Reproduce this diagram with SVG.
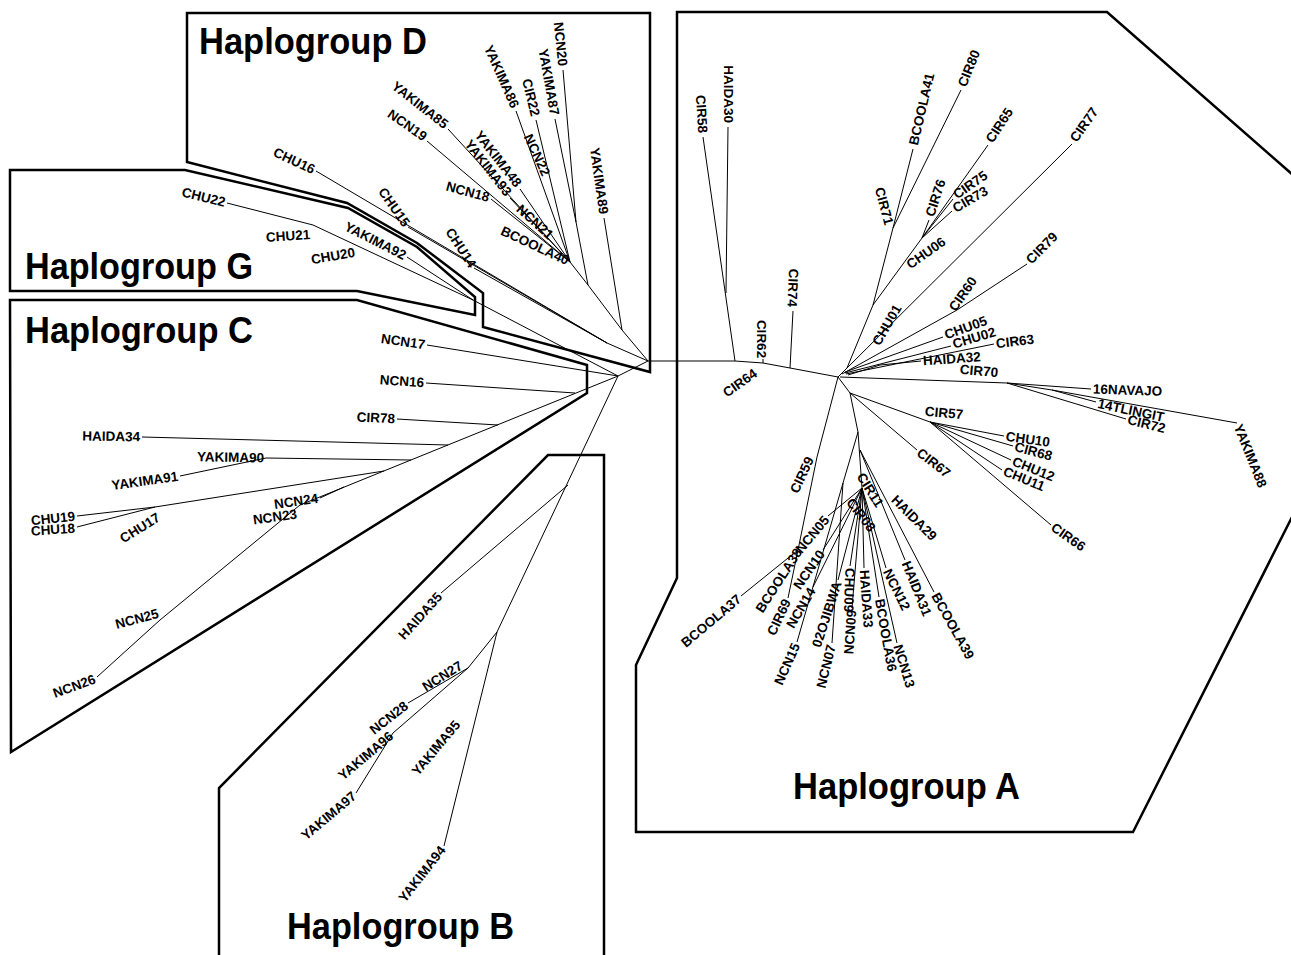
<svg xmlns="http://www.w3.org/2000/svg" width="1291" height="955" viewBox="0 0 1291 955">
<style>
.t{font-family:"Liberation Sans",Arial,Helvetica,sans-serif;font-weight:bold;font-size:13.5px;dominant-baseline:central;fill:#000}
.e{text-anchor:end}.s{text-anchor:start}.m{text-anchor:middle}
.h{font-family:"Liberation Sans",Arial,Helvetica,sans-serif;font-weight:bold;font-size:36px;fill:#000}
.box{fill:none;stroke:#000;stroke-width:2.5;stroke-linejoin:miter}
.br{fill:none;stroke:#000;stroke-width:1}
</style>
<rect width="1291" height="955" fill="#fff"/>
<g id="boxes">
<path class="box" d="M187,13 L650,13 L650,372 L483,327 L483,293 L417,243 L347,203 L187,162 Z"/>
<path class="box" d="M10,170 L185,170 L348,208 L417,247 L475,297 L475,315 L357,291 L10,291 Z"/>
<path class="box" d="M10,300 L357,300 L587,365 L587,393 L11,752 Z"/>
<path class="box" d="M219,960 L219,788 L548,455 L604,455 L604,960"/>
<path class="box" d="M1293,175 L1107,12 L677,12 L677,578 L636,665 L636,832 L1133,832 L1293,515"/>
</g>
<g id="titles">
<text class="h" x="199" y="54" textLength="228" lengthAdjust="spacingAndGlyphs">Haplogroup D</text>
<text class="h" x="25" y="279" textLength="228" lengthAdjust="spacingAndGlyphs">Haplogroup G</text>
<text class="h" x="25" y="343" textLength="228" lengthAdjust="spacingAndGlyphs">Haplogroup C</text>
<text class="h" x="287" y="939" textLength="227" lengthAdjust="spacingAndGlyphs">Haplogroup B</text>
<text class="h" x="793" y="799" textLength="227" lengthAdjust="spacingAndGlyphs">Haplogroup A</text>
</g>
<g id="connectors">
<path class="br" d="M648,361 L735,361 L763,363 L790,368 L838,377"/>
<path class="br" d="M703,137 L735,361 M728,127 L726,293 M793,311 L790,368 M763,359 L763,363"/>
<path class="br" d="M838,377 L847,368 L873,305 L893,228 L913,149 M893,228 L961,90 M873,305 L922,238 L929,220 M922,238 L953,199 M922,238 L952,211 M922,238 L988,145"/>
<path class="br" d="M840,375 L1072,144 M842,374 L957,310 L1027,264 M845,372 L943,337 M845,373 L951,346 M846,374 L994,344 M848,375 L880,365 L921,361"/>
<path class="br" d="M840,377 L1007,383 L1091,389 M1007,383 L1052,390 L1096,402 M1007,383 L1126,419 M1052,390 L1237,423"/>
<path class="br" d="M838,377 L850,393 L930,422 L1004,436 M930,422 L1013,446 M930,422 L1011,460 M930,422 L1002,470 M930,422 L1051,525 M850,393 L917,450"/>
<path class="br" d="M850,393 L858,432 L862,488 M860,450 L905,560 M860,450 L934,592"/>
<path class="br" d="M862,488 L828,516 M862,488 L823,550 M862,488 L813,587 M862,488 L838,580 M862,488 L852,608 M862,488 L850,566 M862,488 L864,568 M862,488 L879,597 M862,488 L886,568 M862,488 L897,643 M858,432 L843,483 L797,642 M843,483 L832,643"/>
<path class="br" d="M838,377 L817,457 L798,550 L741,596 M798,550 L788,598"/>
<path class="br" d="M648,361 L622,330 L604,218 M622,330 L588,285 L570,262 M588,285 L576,222 L563,70 M576,222 L555,119"/>
<path class="br" d="M570,262 L516,111 M570,262 L536,120 M570,262 L520,189 M570,262 L510,198 M570,262 L491,199 M570,262 L448,129 M570,262 L427,141"/>
<path class="br" d="M648,361 L607,343 L316,171 M607,343 L408,227 M607,343 L474,268"/>
<path class="br" d="M648,361 L618,376 L473,300 L313,225 L227,203 M473,300 L407,257"/>
<path class="br" d="M618,376 L427,345 M618,376 L300,505 L160,620 L97,677 M575,393 L426,383 M498,425 L397,419 M448,445 L142,437 M411,460 L266,458 L180,476 M384,471 L155,507 L77,516 M155,507 L77,527 M344,487 L320,498"/>
<path class="br" d="M618,376 L497,632 L444,846 M568,485 L441,593 M497,632 L468,668 L408,703 M468,668 L393,733 L356,793"/>
</g>
<g id="haplogroup-d">
<g id="YAKIMA86"><text class="t e" transform="translate(516,109) rotate(66)" x="-2">YAKIMA86</text></g>
<g id="YAKIMA87"><text class="t e" transform="translate(555,117) rotate(80)" x="-2">YAKIMA87</text></g>
<g id="CIR22"><text class="t e" transform="translate(536,118) rotate(76)" x="-2">CIR22</text></g>
<g id="NCN20"><text class="t e" transform="translate(563,68) rotate(84)" x="-2">NCN20</text></g>
<g id="NCN22"><text class="t m" transform="translate(537,155) rotate(65)">NCN22</text></g>
<g id="YAKIMA89"><text class="t e" transform="translate(604,216) rotate(82)" x="-2">YAKIMA89</text></g>
<g id="YAKIMA48"><text class="t e" transform="translate(520,187) rotate(52)" x="-2">YAKIMA48</text></g>
<g id="YAKIMA93"><text class="t e" transform="translate(510,196) rotate(52)" x="-2">YAKIMA93</text></g>
<g id="NCN18"><text class="t e" transform="translate(491,198) rotate(15)" x="-2">NCN18</text></g>
<g id="NCN21"><text class="t m" transform="translate(535,222) rotate(42)">NCN21</text></g>
<g id="BCOOLA40"><text class="t e" transform="translate(570,262) rotate(25)" x="-2">BCOOLA40</text></g>
<g id="YAKIMA85"><text class="t e" transform="translate(448,127) rotate(38)" x="-2">YAKIMA85</text></g>
<g id="NCN19"><text class="t e" transform="translate(427,139) rotate(35)" x="-2">NCN19</text></g>
<g id="CHU16"><text class="t e" transform="translate(316,171) rotate(25)" x="-2">CHU16</text></g>
<g id="CHU15"><text class="t e" transform="translate(408,227) rotate(55)" x="-2">CHU15</text></g>
<g id="CHU14"><text class="t e" transform="translate(474,268) rotate(57)" x="-2">CHU14</text></g>
</g>
<g id="haplogroup-g">
<g id="CHU22"><text class="t e" transform="translate(227,203) rotate(14)" x="-2">CHU22</text></g>
<g id="CHU21"><text class="t m" transform="translate(288,236) rotate(-4)">CHU21</text></g>
<g id="CHU20"><text class="t m" transform="translate(333,256) rotate(-10)">CHU20</text></g>
<g id="YAKIMA92"><text class="t e" transform="translate(407,257) rotate(27)" x="-2">YAKIMA92</text></g>
</g>
<g id="haplogroup-c">
<g id="NCN17"><text class="t e" transform="translate(427,345) rotate(8)" x="-2">NCN17</text></g>
<g id="NCN16"><text class="t e" transform="translate(426,383) rotate(4)" x="-2">NCN16</text></g>
<g id="CIR78"><text class="t e" transform="translate(397,419) rotate(3)" x="-2">CIR78</text></g>
<g id="HAIDA34"><text class="t e" transform="translate(142,437) rotate(1)" x="-2">HAIDA34</text></g>
<g id="YAKIMA90"><text class="t e" transform="translate(266,458) rotate(1)" x="-2">YAKIMA90</text></g>
<g id="YAKIMA91"><text class="t e" transform="translate(180,476) rotate(-8)" x="-2">YAKIMA91</text></g>
<g id="CHU19"><text class="t e" transform="translate(77,516) rotate(-6)" x="-2">CHU19</text></g>
<g id="CHU18"><text class="t e" transform="translate(77,528) rotate(-4)" x="-2">CHU18</text></g>
<g id="CHU17"><text class="t m" transform="translate(140,528) rotate(-32)">CHU17</text></g>
<g id="NCN24"><text class="t e" transform="translate(320,498) rotate(-8)" x="-2">NCN24</text></g>
<g id="NCN23"><text class="t m" transform="translate(275,517) rotate(-8)">NCN23</text></g>
<g id="NCN25"><text class="t m" transform="translate(137,619) rotate(-15)">NCN25</text></g>
<g id="NCN26"><text class="t e" transform="translate(97,678) rotate(-20)" x="-2">NCN26</text></g>
</g>
<g id="haplogroup-b">
<g id="HAIDA35"><text class="t e" transform="translate(441,593) rotate(-48)" x="-2">HAIDA35</text></g>
<g id="NCN27"><text class="t e" transform="translate(462,664) rotate(-32)" x="-1">NCN27</text></g>
<g id="NCN28"><text class="t e" transform="translate(408,703) rotate(-38)" x="-2">NCN28</text></g>
<g id="YAKIMA96"><text class="t e" transform="translate(393,733) rotate(-40)" x="-2">YAKIMA96</text></g>
<g id="YAKIMA97"><text class="t e" transform="translate(356,793) rotate(-40)" x="-2">YAKIMA97</text></g>
<g id="YAKIMA95"><text class="t m" transform="translate(436,748) rotate(-50)">YAKIMA95</text></g>
<g id="YAKIMA94"><text class="t e" transform="translate(444,846) rotate(-52)" x="-2">YAKIMA94</text></g>
</g>
<g id="haplogroup-a">
<g id="CIR58"><text class="t e" transform="translate(703,135) rotate(86)" x="-2">CIR58</text></g>
<g id="HAIDA30"><text class="t e" transform="translate(728,125) rotate(90)" x="-2">HAIDA30</text></g>
<g id="CIR64"><text class="t m" transform="translate(740,383) rotate(-35)">CIR64</text></g>
<g id="CIR62"><text class="t m" transform="translate(761,339) rotate(90)">CIR62</text></g>
<g id="CIR74"><text class="t e" transform="translate(792,309) rotate(92)" x="-2">CIR74</text></g>
<g id="BCOOLA41"><text class="t s" transform="translate(913,147) rotate(-77)" x="2">BCOOLA41</text></g>
<g id="CIR80"><text class="t s" transform="translate(961,88) rotate(-68)" x="2">CIR80</text></g>
<g id="CIR71"><text class="t m" transform="translate(884,206) rotate(75)">CIR71</text></g>
<g id="CIR76"><text class="t s" transform="translate(929,218) rotate(-72)" x="2">CIR76</text></g>
<g id="CIR75"><text class="t s" transform="translate(953,197) rotate(-35)" x="2">CIR75</text></g>
<g id="CIR73"><text class="t s" transform="translate(952,210) rotate(-30)" x="2">CIR73</text></g>
<g id="CIR65"><text class="t s" transform="translate(988,143) rotate(-57)" x="2">CIR65</text></g>
<g id="CHU06"><text class="t m" transform="translate(926,253) rotate(-35)">CHU06</text></g>
<g id="CHU01"><text class="t m" transform="translate(887,325) rotate(-60)">CHU01</text></g>
<g id="CIR77"><text class="t s" transform="translate(1072,142) rotate(-55)" x="2">CIR77</text></g>
<g id="CIR79"><text class="t s" transform="translate(1027,263) rotate(-45)" x="2">CIR79</text></g>
<g id="CIR60"><text class="t m" transform="translate(963,294) rotate(-55)">CIR60</text></g>
<g id="CHU05"><text class="t s" transform="translate(943,336) rotate(-20)" x="2">CHU05</text></g>
<g id="CHU02"><text class="t s" transform="translate(951,345) rotate(-17)" x="2">CHU02</text></g>
<g id="CIR63"><text class="t s" transform="translate(994,344) rotate(-7)" x="2">CIR63</text></g>
<g id="HAIDA32"><text class="t s" transform="translate(921,361) rotate(-4)" x="2">HAIDA32</text></g>
<g id="CIR70"><text class="t m" transform="translate(979,371) rotate(5)">CIR70</text></g>
<g id="16NAVAJO"><text class="t s" transform="translate(1091,389) rotate(2)" x="2">16NAVAJO</text></g>
<g id="14TLINGIT"><text class="t s" transform="translate(1096,403) rotate(12)" x="2">14TLINGIT</text></g>
<g id="CIR72"><text class="t s" transform="translate(1126,419) rotate(14)" x="2">CIR72</text></g>
<g id="YAKIMA88"><text class="t s" transform="translate(1237,423) rotate(68)" x="2">YAKIMA88</text></g>
<g id="CIR57"><text class="t m" transform="translate(944,413) rotate(5)">CIR57</text></g>
<g id="CHU10"><text class="t s" transform="translate(1004,436) rotate(8)" x="2">CHU10</text></g>
<g id="CIR68"><text class="t s" transform="translate(1013,446) rotate(15)" x="2">CIR68</text></g>
<g id="CHU12"><text class="t s" transform="translate(1011,460) rotate(22)" x="2">CHU12</text></g>
<g id="CHU11"><text class="t s" transform="translate(1002,470) rotate(22)" x="2">CHU11</text></g>
<g id="CIR66"><text class="t s" transform="translate(1051,525) rotate(35)" x="2">CIR66</text></g>
<g id="CIR67"><text class="t s" transform="translate(917,450) rotate(38)" x="2">CIR67</text></g>
<g id="CIR59"><text class="t m" transform="translate(802,475) rotate(-65)">CIR59</text></g>
<g id="HAIDA29"><text class="t m" transform="translate(914,518) rotate(45)">HAIDA29</text></g>
<g id="CIR11"><text class="t m" transform="translate(870,490) rotate(58)">CIR11</text></g>
<g id="CIR08"><text class="t m" transform="translate(861,515) rotate(52)">CIR08</text></g>
<g id="NCN05"><text class="t e" transform="translate(828,516) rotate(-50)" x="-2">NCN05</text></g>
<g id="NCN10"><text class="t e" transform="translate(823,550) rotate(-55)" x="-2">NCN10</text></g>
<g id="NCN14"><text class="t e" transform="translate(813,587) rotate(-60)" x="-2">NCN14</text></g>
<g id="NCN15"><text class="t e" transform="translate(797,642) rotate(-66)" x="-2">NCN15</text></g>
<g id="BCOOLA38"><text class="t e" transform="translate(800,548) rotate(-57)" x="-2">BCOOLA38</text></g>
<g id="CIR69"><text class="t e" transform="translate(788,598) rotate(-65)" x="-2">CIR69</text></g>
<g id="BCOOLA37"><text class="t e" transform="translate(741,596) rotate(-40)" x="-2">BCOOLA37</text></g>
<g id="02OJIBWA"><text class="t e" transform="translate(838,580) rotate(-72)" x="-2">02OJIBWA</text></g>
<g id="NCN07"><text class="t e" transform="translate(832,643) rotate(-76)" x="-2">NCN07</text></g>
<g id="NCN09"><text class="t e" transform="translate(852,608) rotate(-86)" x="-2">NCN09</text></g>
<g id="CHU09"><text class="t s" transform="translate(850,566) rotate(92)" x="2">CHU09</text></g>
<g id="HAIDA33"><text class="t s" transform="translate(864,568) rotate(86)" x="2">HAIDA33</text></g>
<g id="BCOOLA36"><text class="t s" transform="translate(879,597) rotate(80)" x="2">BCOOLA36</text></g>
<g id="NCN12"><text class="t s" transform="translate(886,568) rotate(64)" x="2">NCN12</text></g>
<g id="NCN13"><text class="t s" transform="translate(897,643) rotate(73)" x="2">NCN13</text></g>
<g id="HAIDA31"><text class="t s" transform="translate(905,560) rotate(68)" x="2">HAIDA31</text></g>
<g id="BCOOLA39"><text class="t s" transform="translate(934,592) rotate(61)" x="2">BCOOLA39</text></g>
</g>
</svg>
